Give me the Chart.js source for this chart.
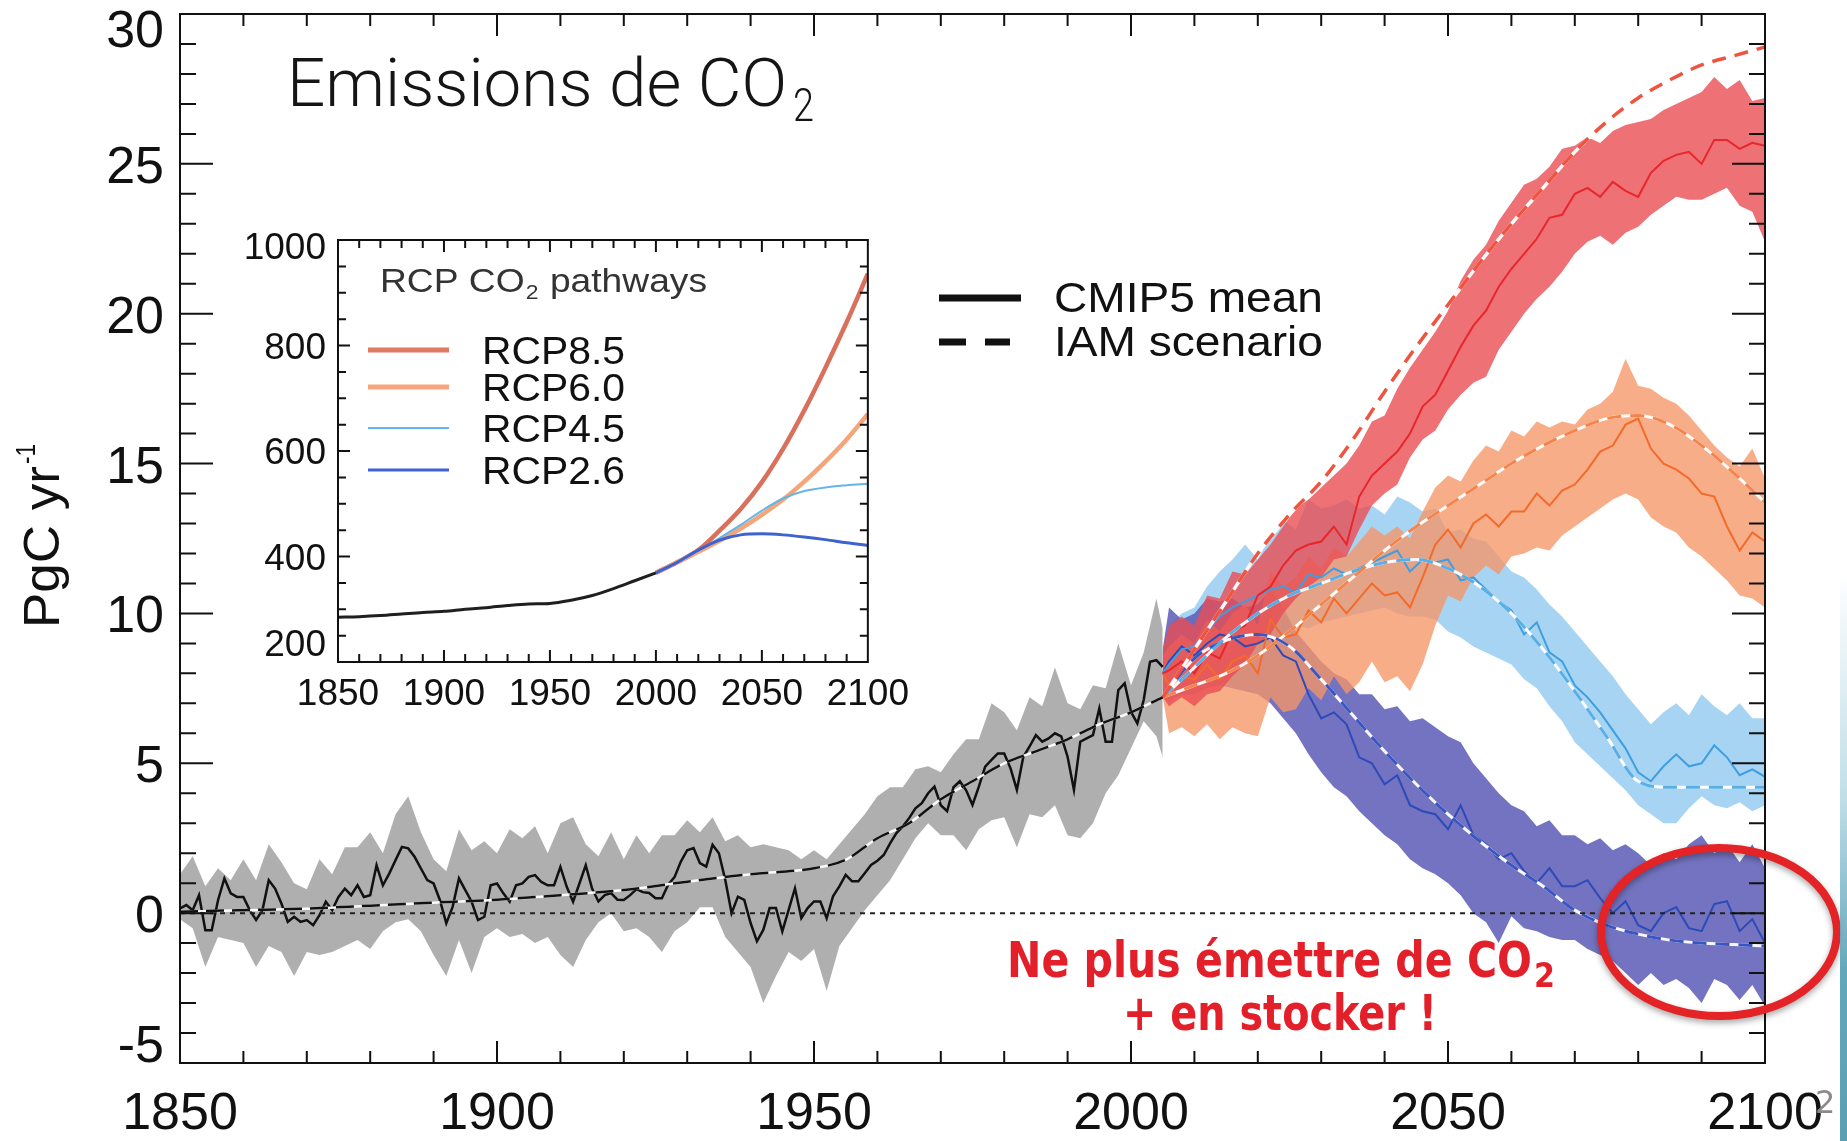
<!DOCTYPE html>
<html>
<head>
<meta charset="utf-8">
<script src="https://cdn.jsdelivr.net/npm/chart.js@4.4.1/dist/chart.umd.min.js"></script>
<style>
  html, body { margin: 0; padding: 0; background: #fff; overflow: hidden; }
  #wrap { position: relative; width: 1847px; height: 1141px; }
  #main { position: absolute; left: 0; top: 0; }
  #inset { position: absolute; left: 230px; top: 225px; }
  #strip { position: absolute; left: 1840px; top: 0; width: 7px; height: 1141px;
    background: linear-gradient(to bottom, rgba(255,255,255,0) 50%, rgba(150,200,215,0.6) 70%, #62a8bc 85%, #5b9fb4 100%); }
</style>
</head>
<body>
<div id="wrap">
  <canvas id="main" width="1847" height="1141"></canvas>
  <canvas id="inset" width="690" height="495"></canvas>
  <div id="strip"></div>
</div>
<script>
// ---- main chart data (PgC / yr) ----
const yTickValues = [30, 25, 20, 15, 10, 5, 0, -5];

const histYears = [
  1850, 1851, 1852, 1853, 1854, 1855, 1856, 1857, 1858, 1859,
  1860, 1861, 1862, 1863, 1864, 1865, 1866, 1867, 1868, 1869,
  1870, 1871, 1872, 1873, 1874, 1875, 1876, 1877, 1878, 1879,
  1880, 1881, 1882, 1883, 1884, 1885, 1886, 1887, 1888, 1889,
  1890, 1891, 1892, 1893, 1894, 1895, 1896, 1897, 1898, 1899,
  1900, 1901, 1902, 1903, 1904, 1905, 1906, 1907, 1908, 1909,
  1910, 1911, 1912, 1913, 1914, 1915, 1916, 1917, 1918, 1919,
  1920, 1921, 1922, 1923, 1924, 1925, 1926, 1927, 1928, 1929,
  1930, 1931, 1932, 1933, 1934, 1935, 1936, 1937, 1938, 1939,
  1940, 1941, 1942, 1943, 1944, 1945, 1946, 1947, 1948, 1949,
  1950, 1951, 1952, 1953, 1954, 1955, 1956, 1957, 1958, 1959,
  1960, 1961, 1962, 1963, 1964, 1965, 1966, 1967, 1968, 1969,
  1970, 1971, 1972, 1973, 1974, 1975, 1976, 1977, 1978, 1979,
  1980, 1981, 1982, 1983, 1984, 1985, 1986, 1987, 1988, 1989,
  1990, 1991, 1992, 1993, 1994, 1995, 1996, 1997, 1998, 1999,
  2000, 2001, 2002, 2003, 2004, 2005
];
const histMean = [
  0.16, 0.27, 0.10, 0.60, -0.57, -0.57, 0.43, 1.16, 0.66, 0.54,
  0.54, 0.10, -0.23, 0.10, 1.10, 0.82, 0.32, -0.29, -0.12, -0.29,
  -0.23, -0.40, -0.07, 0.38, 0.10, 0.54, 0.82, 0.60, 0.93, 0.54,
  0.60, 1.60, 0.93, 1.32, 1.77, 2.21, 2.16, 1.88, 1.49, 1.10,
  0.99, 0.43, -0.34, 0.21, 1.16, 0.77, 0.38, -0.23, -0.12, 0.93,
  0.99, 0.66, 0.38, 0.93, 0.99, 1.21, 1.27, 1.04, 0.93, 0.93,
  1.54, 0.88, 0.38, 0.99, 1.60, 0.82, 0.39, 0.60, 0.67, 0.45,
  0.44, 0.60, 0.80, 0.70, 0.67, 0.50, 0.50, 0.95, 1.20, 1.72,
  2.10, 2.17, 1.67, 1.55, 2.28, 2.00, 1.11, 0.00, 0.55, 0.44,
  -0.33, -0.94, -0.56, 0.17, 0.17, -0.61, 0.11, 0.83, -0.17, 0.17,
  0.39, 0.39, -0.17, 0.56, 0.89, 1.28, 1.06, 1.06, 1.33, 1.61,
  1.75, 1.94, 2.33, 2.67, 2.89, 3.17, 3.50, 3.67, 4.00, 4.22,
  3.60, 3.40, 4.20, 4.40, 4.10, 3.61, 4.22, 4.89, 5.11, 5.33,
  5.33, 4.83, 4.11, 5.20, 5.56, 5.94, 5.72, 5.83, 6.00, 5.90,
  5.22, 4.11, 5.72, 5.83, 5.94, 6.83, 5.72, 5.72, 7.44, 7.67,
  6.72, 6.33, 7.11, 8.39, 8.44, 8.22
];

const histBandYears = [
  1850, 1852, 1854, 1856, 1858, 1860, 1862, 1864, 1866, 1868,
  1870, 1872, 1874, 1876, 1878, 1880, 1882, 1884, 1886, 1888,
  1890, 1892, 1894, 1896, 1898, 1900, 1902, 1904, 1906, 1908,
  1910, 1912, 1914, 1916, 1918, 1920, 1922, 1924, 1926, 1928,
  1930, 1932, 1934, 1936, 1938, 1940, 1942, 1944, 1946, 1948,
  1950, 1952, 1954, 1956, 1958, 1960, 1962, 1964, 1966, 1968,
  1970, 1972, 1974, 1976, 1978, 1980, 1982, 1984, 1986, 1988,
  1990, 1992, 1994, 1996, 1998, 2000, 2002, 2004, 2005
];
const histUpper = [
  1.3, 1.9, 0.9, 1.5, 1.1, 1.8, 1.1, 2.3, 1.7, 1.0,
  0.8, 1.8, 1.3, 2.2, 2.2, 2.7, 2.0, 3.3, 3.9, 2.7,
  1.8, 1.4, 2.8, 2.1, 2.4, 2.0, 2.8, 2.5, 2.9, 2.0,
  3.0, 3.2, 2.3, 1.9, 2.7, 1.8, 2.6, 2.0, 2.6, 2.6,
  3.1, 2.7, 3.2, 2.4, 2.6, 2.2, 2.3, 2.2, 2.1, 1.8,
  2.1, 1.8, 2.3, 2.8, 3.3, 3.9, 4.2, 4.2, 4.8, 4.9,
  4.7, 5.3, 5.8, 5.8, 7.0, 6.7, 6.1, 7.2, 6.9, 8.2,
  7.0, 6.8, 7.6, 7.5, 9.0, 7.6, 8.7, 10.5, 9.5
];
const histLower = [
  -0.2, -0.5, -1.8, -0.8, -0.9, -1.0, -1.8, -1.1, -1.3, -2.1,
  -1.3, -1.4, -1.3, -1.1, -0.9, -1.2, -0.6, -0.3, -0.2, -0.6,
  -1.4, -2.1, -0.9, -2.0, -0.8, -0.5, -0.8, -0.7, -1.0, -0.8,
  -1.4, -1.8, -0.9, -0.3, 0.0, -0.6, -0.5, -0.8, -1.3, -0.6,
  -0.3, 0.2, 0.2, -0.8, -1.3, -1.8, -3.0, -2.1, -1.3, -1.6,
  -1.2, -2.6, -1.1, -0.5, 0.1, 0.6, 1.1, 1.8, 2.5, 3.0,
  2.6, 2.6, 2.1, 2.8, 3.1, 3.2, 2.2, 3.3, 3.2, 3.6,
  2.6, 2.5, 3.0, 4.0, 4.6, 5.5, 6.4, 5.9, 5.2
];

const histIamYears = [1850, 1860, 1870, 1880, 1890, 1900, 1910, 1920, 1930, 1940, 1950,
  1955, 1960, 1965, 1970, 1975, 1980, 1985, 1990, 1995, 2000, 2005];
const histIam = [0.05, 0.1, 0.15, 0.25, 0.35, 0.45, 0.6, 0.77, 1.05, 1.3, 1.5,
  1.78, 2.5, 3.0, 3.8, 4.4, 5.0, 5.4, 5.8, 6.3, 6.7, 7.2];

const futYears = [
  2005, 2006, 2008, 2010, 2012, 2014, 2016, 2018, 2020,
  2022, 2024, 2026, 2028, 2030, 2032, 2034, 2036, 2038, 2040,
  2042, 2044, 2046, 2048, 2050, 2052, 2054, 2056, 2058, 2060,
  2062, 2064, 2066, 2068, 2070, 2072, 2074, 2076, 2078, 2080,
  2082, 2084, 2086, 2088, 2090, 2092, 2094, 2096, 2098, 2100
];

const rcp85Mean = [
  8.0, 8.1, 8.4, 8.0, 8.7, 8.5, 9.4, 9.6, 10.6,
  10.9, 11.6, 12.1, 12.3, 12.4, 12.9, 12.3, 13.9, 14.6, 15.0,
  15.4, 16.0, 16.9, 17.3, 18.1, 18.9, 19.6, 20.1, 20.9, 21.5,
  22.0, 22.5, 23.2, 23.3, 24.0, 24.2, 23.9, 24.4, 24.1, 23.9,
  24.7, 25.1, 25.3, 25.4, 25.0, 25.8, 25.8, 25.5, 25.7, 25.6
];
const rcp85Upper = [
  8.8, 9.6, 9.9, 9.6, 10.6, 10.5, 11.4, 11.3, 11.8,
  12.3, 12.9, 13.5, 13.8, 14.2, 14.6, 15.0, 15.6, 16.4, 16.6,
  17.5, 18.2, 18.8, 19.4, 20.1, 21.1, 21.8, 22.3, 23.1, 23.7,
  24.3, 24.5, 24.9, 25.5, 25.6, 25.9, 25.7, 26.1, 26.3, 26.4,
  26.5, 26.8, 27.0, 27.2, 27.4, 27.9, 27.5, 27.8, 27.1, 27.2
];
const rcp85Lower = [
  7.2, 6.9, 7.2, 6.9, 7.3, 7.4, 7.9, 8.3, 9.0,
  9.3, 10.0, 10.5, 10.9, 11.2, 11.8, 11.9, 12.8, 13.6, 14.0,
  14.3, 15.2, 15.8, 16.1, 16.8, 17.3, 17.7, 17.9, 18.8, 19.4,
  20.0, 20.5, 20.9, 21.4, 22.0, 22.4, 22.6, 22.3, 22.7, 22.9,
  23.3, 23.6, 23.9, 23.8, 23.8, 24.0, 24.2, 23.6, 23.4, 22.4
];

const rcp60Mean = [
  8.0, 7.6, 7.9, 7.8, 8.3, 7.8, 8.4, 8.6, 8.0,
  9.8, 9.2, 9.3, 10.1, 9.7, 10.5, 10.0, 10.5, 11.0, 10.6,
  10.7, 10.2, 11.2, 12.3, 12.8, 12.2, 13.0, 13.3, 12.9, 13.4,
  13.4, 14.0, 13.6, 14.1, 14.3, 14.8, 15.4, 15.6, 16.3, 16.5,
  15.5, 15.0, 14.8, 14.5, 14.0, 13.9, 12.9, 12.1, 12.7, 12.4
];
const rcp60Upper = [
  8.6, 8.9, 9.3, 9.0, 9.8, 9.4, 10.0, 10.3, 9.6,
  11.4, 10.9, 11.2, 11.9, 11.5, 12.2, 11.9, 12.4, 12.9, 12.6,
  12.9, 12.5, 13.4, 14.2, 14.6, 14.4, 15.1, 15.6, 15.4, 16.1,
  15.9, 16.4, 16.2, 16.4, 16.3, 16.8, 17.0, 17.4, 18.5, 17.6,
  17.5, 17.2, 17.0, 16.6, 16.1, 15.6, 15.2, 14.9, 15.5, 14.5
];
const rcp60Lower = [
  7.2, 6.0, 6.2, 5.9, 6.3, 5.8, 6.2, 6.0, 5.9,
  7.2, 6.7, 6.8, 7.5, 7.1, 7.9, 7.3, 7.7, 8.4, 7.7,
  7.9, 7.4, 8.3, 9.6, 10.6, 10.4, 11.2, 11.6, 11.3, 11.9,
  12.0, 12.2, 12.1, 12.6, 12.9, 13.2, 13.5, 13.8, 14.0, 13.8,
  13.2, 12.9, 12.7, 12.2, 11.9, 11.5, 11.1, 10.6, 10.5, 10.2
];

const rcp45Mean = [
  8.0, 8.3, 8.8, 8.9, 9.4, 9.9, 10.2, 10.4, 10.6,
  10.8, 10.9, 10.7, 11.3, 11.2, 11.5, 11.3, 11.5, 11.7, 11.9,
  12.1, 11.4, 11.8, 11.7, 11.8, 11.1, 11.2, 10.8, 10.4, 10.1,
  9.3, 9.7, 8.7, 8.4, 7.6, 7.2, 6.7, 6.1, 5.5, 4.7,
  4.4, 4.9, 5.3, 4.9, 5.0, 5.6, 5.2, 4.6, 4.8, 4.55
];
const rcp45Upper = [
  8.8, 9.6, 10.0, 10.2, 10.9, 11.4, 11.8, 12.3, 11.8,
  12.6, 13.1, 12.8, 13.8, 13.5, 13.6, 13.8, 13.5, 13.6, 13.3,
  13.9, 13.7, 13.4, 13.5, 12.7, 12.8, 12.5, 12.4, 11.9, 11.4,
  11.2, 10.8, 10.3, 9.9, 9.4, 8.9, 8.4, 7.9, 7.3, 6.8,
  6.3, 6.7, 7.0, 6.6, 7.3, 6.9, 6.6, 7.0, 6.5, 6.5
];
const rcp45Lower = [
  7.2, 7.0, 7.4, 7.8, 8.0, 8.2, 8.5, 8.8, 9.2,
  9.3, 9.4, 9.6, 9.5, 9.7, 9.8, 9.9, 10.0, 10.1, 10.2,
  10.0, 9.9, 9.9, 9.8, 9.4, 9.2, 8.9, 8.7, 8.5, 8.3,
  7.8, 7.5, 6.9, 6.4, 5.7, 5.3, 4.9, 4.5, 4.1, 3.6,
  3.3, 3.0, 3.0, 3.5, 3.9, 3.6, 3.5, 3.7, 3.4, 3.6
];

const rcp26Mean = [
  8.0, 8.4, 8.9, 8.6, 9.0, 9.3, 9.2, 8.9, 9.0,
  9.2, 8.6, 8.4, 7.3, 6.5, 6.7, 6.3, 5.2, 5.0, 4.3,
  4.6, 3.6, 3.4, 3.3, 2.8, 3.6, 2.6, 2.3, 1.8, 2.0,
  1.4, 1.0, 1.5, 0.9, 0.9, 1.1, 0.5, 0.0, 0.4, -0.4,
  -0.6, 0.0, 0.2, -0.5, -0.6, 0.3, 0.4, -0.6, -0.2, -1.0
];
const rcp26Upper = [
  8.8, 10.2, 9.8, 10.0, 10.5, 10.4, 10.5, 10.2, 10.3,
  10.8, 10.2, 9.4, 8.9, 8.4, 8.0, 7.8, 7.3, 7.3, 6.8,
  6.9, 6.4, 6.5, 6.2, 5.9, 5.7, 5.0, 4.5, 4.0, 3.6,
  3.4, 2.9, 3.1, 2.6, 2.6, 2.3, 2.5, 2.1, 2.3, 2.0,
  1.6, 2.0, 1.8, 2.3, 2.6, 2.0, 2.3, 1.7, 2.3, 1.5
];
const rcp26Lower = [
  7.2, 7.1, 7.3, 7.3, 7.5, 7.6, 7.5, 7.4, 7.3,
  7.0, 6.5, 6.0, 5.3, 4.7, 4.2, 3.9, 3.4, 3.0, 2.6,
  2.3, 1.8, 1.5, 1.3, 1.0, 0.6, 0.0, -0.3, -1.0, -0.1,
  -0.5, -0.6, -0.8, -0.9, -0.9, -1.2, -1.4, -1.6, -2.0, -2.4,
  -2.0, -2.4, -2.2, -2.5, -3.0, -2.2, -2.4, -2.9, -2.4, -3.1
];

const iamYears = [2005, 2010, 2015, 2020, 2025, 2030, 2035, 2040, 2045, 2050,
  2055, 2060, 2065, 2070, 2075, 2080, 2085, 2090, 2095, 2100];
const iam85 = [7.2, 8.8, 10.4, 12.0, 13.3, 14.4, 15.8, 17.4, 18.9, 20.3,
  21.7, 23.0, 24.2, 25.4, 26.4, 27.2, 27.8, 28.3, 28.6, 28.9];
const iam60 = [7.2, 7.6, 8.0, 8.6, 9.4, 10.3, 11.2, 12.1, 12.9, 13.6,
  14.3, 15.0, 15.6, 16.1, 16.5, 16.6, 16.3, 15.6, 14.7, 13.7];
const iam45 = [7.2, 8.2, 9.2, 10.0, 10.6, 11.0, 11.4, 11.7, 11.8, 11.5,
  10.9, 10.0, 8.8, 7.4, 5.9, 4.4, 4.2, 4.2, 4.2, 4.2];
const iam26 = [7.2, 8.5, 9.1, 9.3, 8.9, 7.8, 6.6, 5.4, 4.3, 3.3,
  2.4, 1.6, 0.9, 0.1, -0.4, -0.7, -0.9, -1.0, -1.05, -1.1];

const zeroYears = [1850, 2100];
const zeroVals = [0, 0];

// ---- inset data (ppm) ----
const insetYTicks = [1000, 800, 600, 400, 200];
const co2HistYears = [1850, 1860, 1870, 1880, 1890, 1900, 1910, 1920, 1930, 1940, 1950, 1960, 1970, 1980, 1990, 2000];
const co2Hist = [285, 286, 288, 291, 294, 296, 300, 303, 307, 310, 311, 317, 326, 339, 354, 369];
const co2FutYears = [2000, 2010, 2020, 2030, 2040, 2050, 2060, 2070, 2080, 2090, 2100];
const rcp85Co2 = [369, 389, 412, 449, 490, 541, 604, 677, 758, 844, 936];
const rcp60Co2 = [369, 389, 409, 430, 453, 479, 508, 542, 580, 622, 670];
const rcp45Co2 = [369, 389, 411, 435, 460, 487, 510, 524, 531, 535, 538];
const rcp26Co2 = [369, 389, 412, 431, 441, 443, 441, 437, 432, 426, 421];
const rcpNames = ['RCP8.5', 'RCP6.0', 'RCP4.5', 'RCP2.6'];

function pts(xs, ys) {
  return xs.map((x, i) => ({ x: x, y: ys[i] }));
}

function fitText(ctx, txt, x, y, w, font, color) {
  ctx.save();
  ctx.font = font;
  ctx.fillStyle = color;
  ctx.textAlign = 'left';
  ctx.textBaseline = 'alphabetic';
  const m = ctx.measureText(txt).width;
  ctx.translate(x, y);
  ctx.scale(w / m, 1);
  ctx.fillText(txt, 0, 0);
  ctx.restore();
}

// text with a subscript in the middle, squeezed/stretched as a whole to width w
function subText(ctx, before, sub, after, x, y, w, size, family, color) {
  ctx.save();
  ctx.fillStyle = color;
  ctx.textAlign = 'left';
  ctx.textBaseline = 'alphabetic';
  const big = size + 'px ' + family, small = Math.round(size * 0.62) + 'px ' + family;
  ctx.font = big; const w1 = ctx.measureText(before).width; const w3 = ctx.measureText(after).width;
  ctx.font = small; const w2 = ctx.measureText(sub).width;
  ctx.translate(x, y);
  ctx.scale(w / (w1 + w2 + w3 + 2), 1);
  ctx.font = big; ctx.fillText(before, 0, 0);
  ctx.font = small; ctx.fillText(sub, w1 + 1, size * 0.2);
  ctx.font = big; ctx.fillText(after, w1 + w2 + 2, 0);
  ctx.restore();
}

// band = lower (invisible) + upper filled down to it
function band(xs, lo, hi, color, order) {
  return [
    { data: pts(xs, lo), borderWidth: 0, pointRadius: 0, fill: false, order: order },
    { data: pts(xs, hi), borderWidth: 0, pointRadius: 0, fill: '-1', backgroundColor: color, order: order }
  ];
}
function meanLine(xs, ys, color, width) {
  return { data: pts(xs, ys), borderColor: color, borderWidth: width, pointRadius: 0, fill: false, order: 3 };
}
function iamLine(xs, ys, color, width, dash) {
  return [
    { data: pts(xs, ys), borderColor: color, borderWidth: width, borderDash: dash, pointRadius: 0,
      fill: false, cubicInterpolationMode: 'monotone', order: 1 },
    { data: pts(xs, ys), borderColor: 'rgba(255,255,255,0.95)', borderWidth: width, pointRadius: 0,
      fill: false, cubicInterpolationMode: 'monotone', order: 2 }
  ];
}

const datasets = [].concat(
  [{ data: pts(zeroYears, zeroVals), borderColor: '#222', borderWidth: 2, borderDash: [5, 5], pointRadius: 0, fill: false, order: 0 }],
  iamLine(histIamYears, histIam, '#111', 2.5, [18, 8]),
  iamLine(iamYears, iam85, '#ef5440', 3.5, [14, 9]),
  iamLine(iamYears, iam60, '#f3844c', 3, [14, 9]),
  iamLine(iamYears, iam45, '#5aaee6', 3, [14, 9]),
  iamLine(iamYears, iam26, '#3a56c0', 3, [14, 9]),
  [meanLine(histYears, histMean, '#111', 2.5),
   meanLine(futYears, rcp85Mean, '#e8262b', 2),
   meanLine(futYears, rcp60Mean, '#f26b2a', 2),
   meanLine(futYears, rcp45Mean, '#3f9ee0', 2),
   meanLine(futYears, rcp26Mean, '#2d4bb8', 2)],
  band(futYears, rcp85Lower, rcp85Upper, 'rgba(234,78,84,0.8)', 4),
  band(futYears, rcp60Lower, rcp60Upper, 'rgba(246,150,104,0.78)', 5),
  band(futYears, rcp26Lower, rcp26Upper, 'rgba(96,96,184,0.88)', 6),
  band(futYears, rcp45Lower, rcp45Upper, 'rgba(150,205,240,0.85)', 7),
  band(histBandYears, histLower, histUpper, 'rgba(168,168,168,0.92)', 8)
);

const mainDecor = {
  id: 'mainDecor',
  afterDraw(chart) {
    const { ctx, chartArea: a, scales: { x, y } } = chart;
    ctx.save();
    // frame and inner ticks
    ctx.strokeStyle = '#111';
    ctx.lineWidth = 2;
    ctx.strokeRect(a.left, a.top, a.right - a.left, a.bottom - a.top);
    ctx.beginPath();
    for (let yr = 1860; yr < 2100; yr += 10) {
      const px = x.getPixelForValue(yr);
      const len = yr % 50 === 0 ? 22 : 12;
      ctx.moveTo(px, a.bottom); ctx.lineTo(px, a.bottom - len);
      ctx.moveTo(px, a.top); ctx.lineTo(px, a.top + len);
    }
    for (let v = -4; v < 30; v++) {
      const py = y.getPixelForValue(v);
      const len = v % 5 === 0 ? 33 : 16;
      ctx.moveTo(a.left, py); ctx.lineTo(a.left + len, py);
      ctx.moveTo(a.right, py); ctx.lineTo(a.right - len, py);
    }
    ctx.stroke();

    // y tick labels (end labels nudged inside like the original)
    ctx.font = '52px "Liberation Sans", Arial, sans-serif';
    ctx.fillStyle = '#111';
    ctx.textAlign = 'right';
    ctx.textBaseline = 'alphabetic';
    yTickValues.forEach(v => {
      let py = y.getPixelForValue(v);
      if (v === 30) py += 14;
      if (v === -5) py -= 20;
      ctx.fillText(String(v), 164, py + 19);
    });

    // y axis title
    ctx.save();
    ctx.translate(59, 628);
    ctx.rotate(-Math.PI / 2);
    fitText(ctx, 'PgC yr', 0, 0, 162, '50px "Liberation Sans", Arial, sans-serif', '#111');
    fitText(ctx, '-1', 164, -24, 20, '27px "Liberation Sans", Arial, sans-serif', '#111');
    ctx.restore();

    // title
    fitText(ctx, 'Emissions de CO', 287, 106, 500, '300 66px Roboto, sans-serif', '#151515');
    fitText(ctx, '2', 793, 121, 21, '300 46px Roboto, sans-serif', '#151515');

    // legend
    ctx.strokeStyle = '#111';
    ctx.lineWidth = 7;
    ctx.beginPath();
    ctx.moveTo(939, 298); ctx.lineTo(1021, 298);
    ctx.moveTo(939, 342); ctx.lineTo(966, 342);
    ctx.moveTo(985, 342); ctx.lineTo(1010, 342);
    ctx.stroke();
    fitText(ctx, 'CMIP5 mean', 1054, 312, 269, '42px "Liberation Sans", Arial, sans-serif', '#111');
    fitText(ctx, 'IAM scenario', 1054, 356, 269, '42px "Liberation Sans", Arial, sans-serif', '#111');

    // annotation
    const red = '#e3202a';
    fitText(ctx, 'Ne plus émettre de CO', 1007, 977, 525, 'bold 50px "Liberation Sans Narrow", "DejaVu Sans Condensed", sans-serif', red);
    fitText(ctx, '2', 1534, 987, 21, 'bold 34px "Liberation Sans Narrow", "DejaVu Sans Condensed", sans-serif', red);
    fitText(ctx, '+ en stocker !', 1123, 1030, 314, 'bold 50px "Liberation Sans Narrow", "DejaVu Sans Condensed", sans-serif', red);

    // circle around the end of RCP2.6
    ctx.save();
    ctx.shadowColor = 'rgba(0,0,0,0.35)';
    ctx.shadowBlur = 6;
    ctx.shadowOffsetY = 3;
    ctx.strokeStyle = '#e42327';
    ctx.lineWidth = 8;
    ctx.beginPath();
    ctx.ellipse(1719, 932, 118, 84, 0, 0, Math.PI * 2);
    ctx.stroke();
    ctx.restore();

    // slide page number
    ctx.font = '32px "DejaVu Sans", sans-serif';
    ctx.fillStyle = '#8a8a8a';
    ctx.textAlign = 'left';
    ctx.fillText('2', 1815, 1113);
    ctx.restore();
  }
};

new Chart(document.getElementById('main'), {
  type: 'line',
  data: { datasets: datasets },
  options: {
    responsive: false,
    animation: false,
    devicePixelRatio: 1,
    layout: { padding: { top: 14, right: 82, left: 0, bottom: 0 } },
    elements: { line: { tension: 0 }, point: { radius: 0 } },
    plugins: { legend: { display: false }, tooltip: { enabled: false } },
    scales: {
      x: {
        type: 'linear', min: 1850, max: 2100,
        grid: { display: false, drawTicks: false },
        border: { display: false },
        ticks: {
          stepSize: 50, padding: 20, color: '#111', maxRotation: 0,
          font: { family: '"Liberation Sans", Arial, sans-serif', size: 52 },
          callback: v => String(v)
        },
        afterFit: s => { s.height = 78; }
      },
      y: {
        type: 'linear', min: -5, max: 30,
        grid: { display: false, drawTicks: false },
        border: { display: false },
        ticks: { display: false },
        afterFit: s => { s.width = 180; }
      }
    }
  },
  plugins: [mainDecor]
});

// ---- inset chart ----
const insetDecor = {
  id: 'insetDecor',
  afterDraw(chart) {
    const { ctx, chartArea: a, scales: { x, y } } = chart;
    ctx.save();
    ctx.strokeStyle = '#111';
    ctx.lineWidth = 2;
    ctx.strokeRect(a.left, a.top, a.right - a.left, a.bottom - a.top);
    ctx.beginPath();
    for (let yr = 1860; yr < 2100; yr += 10) {
      const px = x.getPixelForValue(yr);
      const len = yr % 50 === 0 ? 12 : 8;
      ctx.moveTo(px, a.bottom); ctx.lineTo(px, a.bottom - len);
      ctx.moveTo(px, a.top); ctx.lineTo(px, a.top + len);
    }
    for (let v = 250; v < 1000; v += 50) {
      const py = y.getPixelForValue(v);
      const len = v % 200 === 0 ? 12 : 8;
      ctx.moveTo(a.left, py); ctx.lineTo(a.left + len, py);
      ctx.moveTo(a.right, py); ctx.lineTo(a.right - len, py);
    }
    ctx.stroke();

    ctx.font = '37px "Liberation Sans", Arial, sans-serif';
    ctx.fillStyle = '#111';
    ctx.textAlign = 'right';
    insetYTicks.forEach(v => {
      let py = y.getPixelForValue(v);
      if (v === 1000) py += 6;
      if (v === 200) py -= 19;
      ctx.fillText(String(v), 96, py + 13);
    });

    // inset title
    subText(ctx, 'RCP CO', '2', ' pathways', 150, 67, 327, 34, '"Liberation Sans", Arial, sans-serif', '#333');

    // inset legend
    const cols = ['#dd7a62', '#f5a67c', '#62b6ea', '#3e62cf'];
    const widths = [5, 5, 2, 3];
    const rows = [125, 162, 203, 245];
    rcpNames.forEach((name, i) => {
      ctx.strokeStyle = cols[i];
      ctx.lineWidth = widths[i];
      ctx.beginPath();
      ctx.moveTo(138, rows[i]); ctx.lineTo(219, rows[i]);
      ctx.stroke();
      fitText(ctx, name, 252, rows[i] + 14, 143, '38px "Liberation Sans", Arial, sans-serif', '#111');
    });
    ctx.restore();
  }
};

function co2Line(xs, ys, color, width) {
  return { data: pts(xs, ys), borderColor: color, borderWidth: width, pointRadius: 0, fill: false,
    cubicInterpolationMode: 'monotone' };
}

new Chart(document.getElementById('inset'), {
  type: 'line',
  data: {
    datasets: [
      co2Line(co2HistYears, co2Hist, '#1f1f1f', 3),
      co2Line(co2FutYears, rcp26Co2, '#3e62cf', 3),
      co2Line(co2FutYears, rcp45Co2, '#62b6ea', 2),
      co2Line(co2FutYears, rcp60Co2, '#f4a679', 4.5),
      co2Line(co2FutYears, rcp85Co2, '#d9705c', 4.5)
    ]
  },
  options: {
    responsive: false,
    animation: false,
    devicePixelRatio: 1,
    layout: { padding: { top: 15, right: 52, left: 0, bottom: 0 } },
    plugins: { legend: { display: false }, tooltip: { enabled: false } },
    scales: {
      x: {
        type: 'linear', min: 1850, max: 2100,
        grid: { display: false, drawTicks: false },
        border: { display: false },
        ticks: {
          stepSize: 50, padding: 11, color: '#111', maxRotation: 0,
          font: { family: '"Liberation Sans", Arial, sans-serif', size: 37 },
          callback: v => String(v)
        },
        afterFit: s => { s.height = 58; }
      },
      y: {
        type: 'linear', min: 200, max: 1000,
        grid: { display: false, drawTicks: false },
        border: { display: false },
        ticks: { display: false },
        afterFit: s => { s.width = 108; }
      }
    }
  },
  plugins: [insetDecor]
});
</script>
</body>
</html>
